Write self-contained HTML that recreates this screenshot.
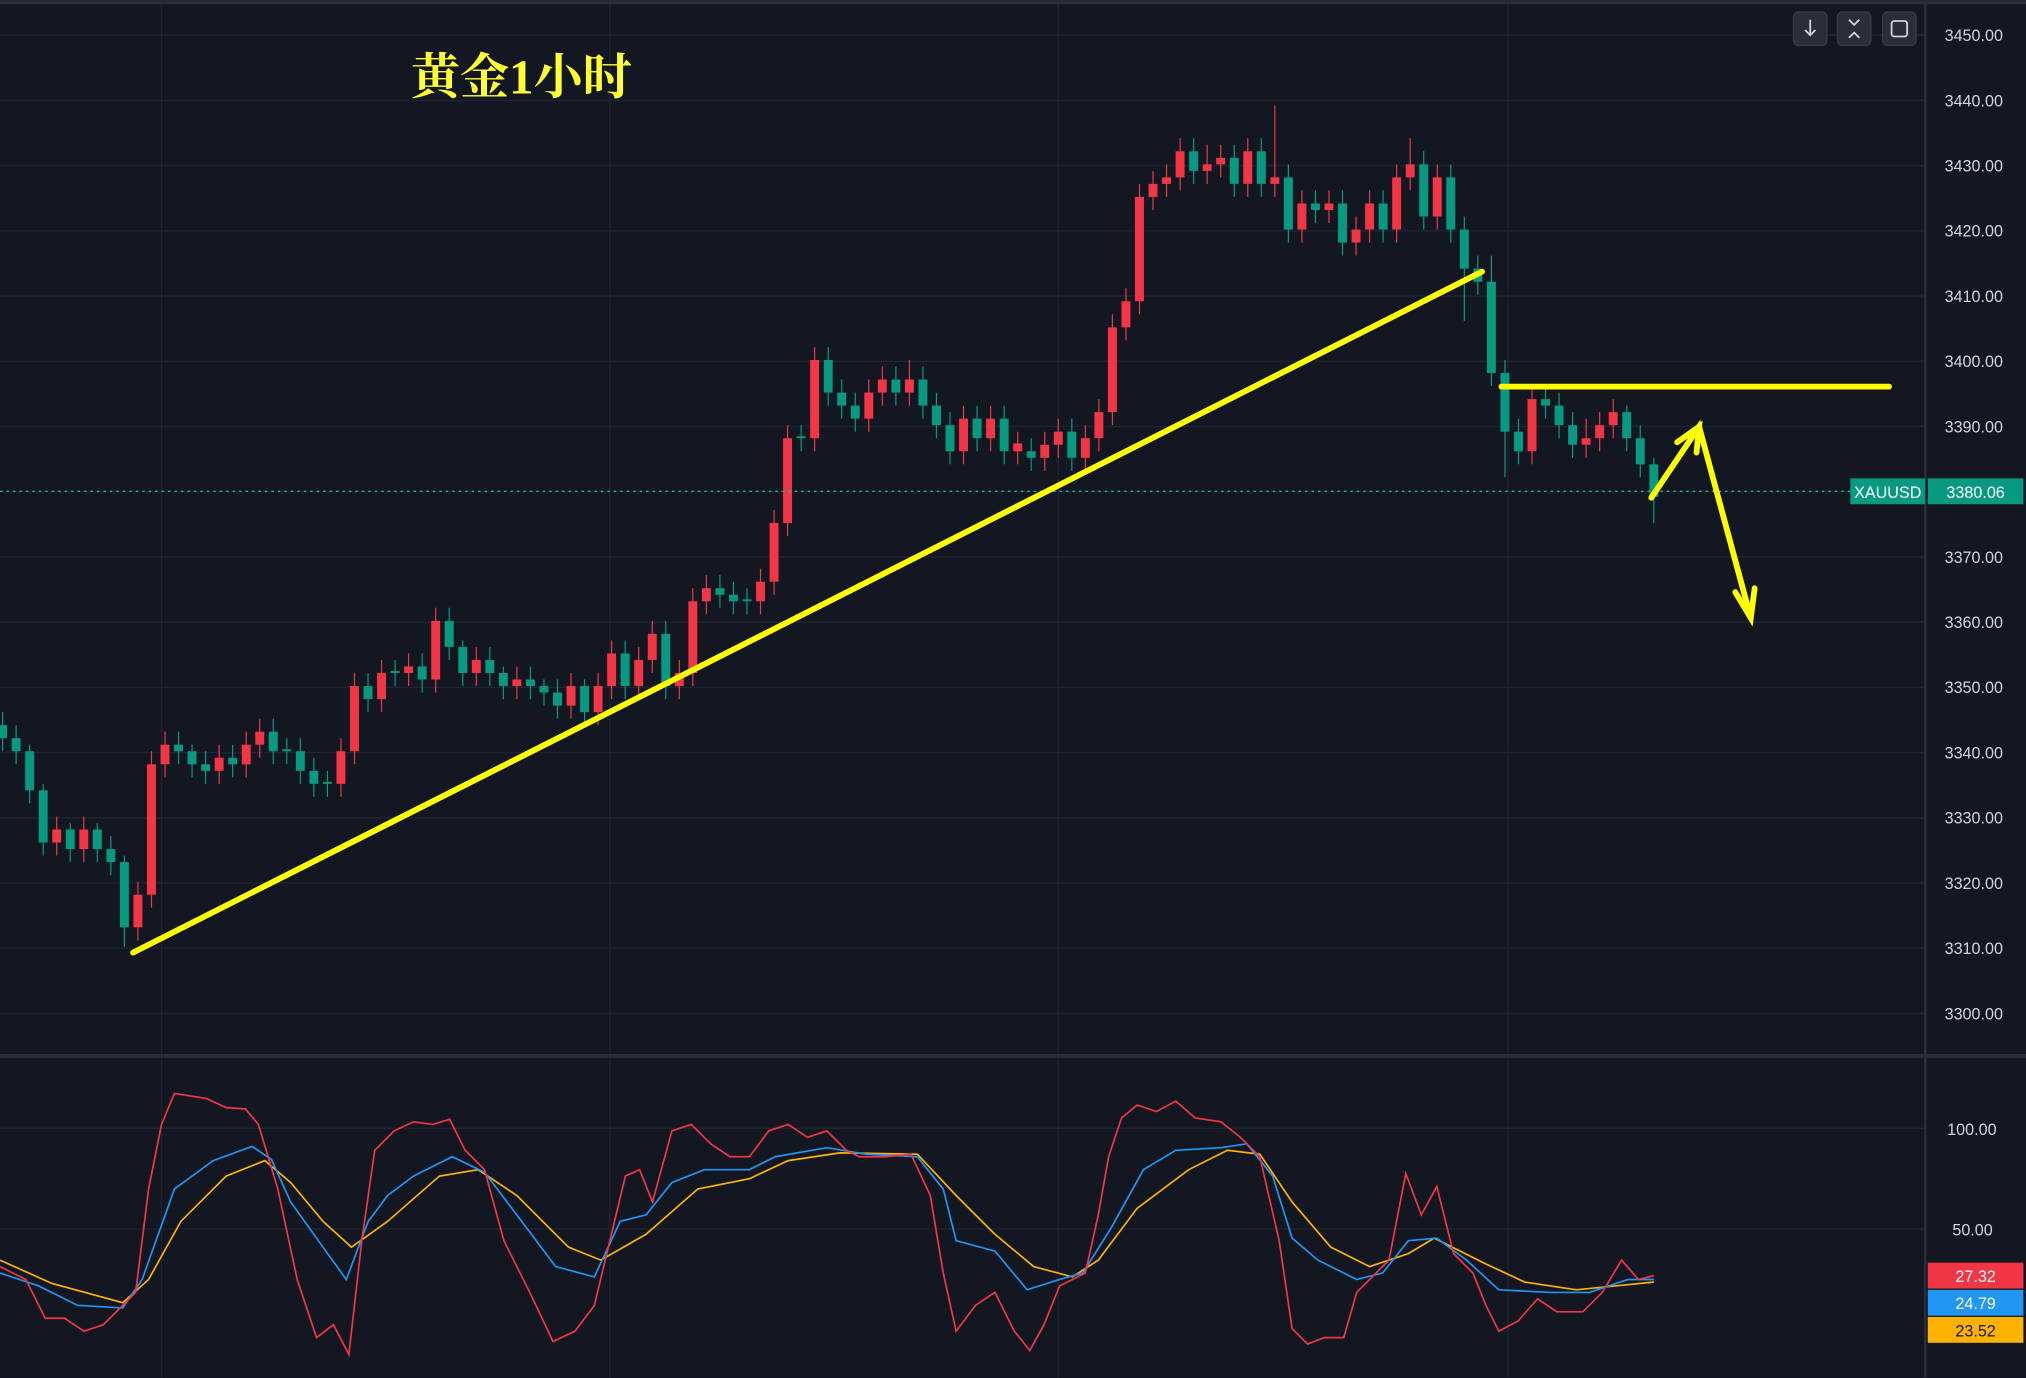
<!DOCTYPE html>
<html><head><meta charset="utf-8"><style>
html,body{margin:0;padding:0;background:#131722;width:2026px;height:1378px;overflow:hidden}
svg{display:block}
text{font-family:"Liberation Sans",sans-serif}
.w{vector-effect:non-scaling-stroke}
</style></head><body>
<svg width="2026" height="1378" viewBox="0 0 1568 1066" xmlns="http://www.w3.org/2000/svg">
<rect width="1568" height="1066" fill="#131722"/>
<path stroke="#1f2430" stroke-width="1" fill="none" d="M0 27H1490M0 77.5H1490M0 127.9H1490M0 178.4H1490M0 228.9H1490M0 279.4H1490M0 329.8H1490M0 380.3H1490M0 430.8H1490M0 481.3H1490M0 531.7H1490M0 582.2H1490M0 632.7H1490M0 683.1H1490M0 733.6H1490M0 784.1H1490M0 873H1490M0 951H1490M125 0V1066M472 0V1066M819 0V1066M1167 0V1066"/>
<g transform="matrix(10.475,0,0,-5.047,-8.475,17438.15)">
<!-- group A -->
<g fill="#089981">
<path class="w" stroke="#089981" stroke-width="1.2" fill="none" d="M1 3340V3346M2 3338V3344M3 3332V3341M4 3324V3335M6 3323V3329M8 3323V3329M9 3321V3327M10 3310V3324M14 3338V3343M15 3336V3341M16 3335V3340M18 3336V3341M21 3338V3345M22 3338V3342M23 3335V3342M24 3333V3339M25 3333V3337M28 3346V3352M30 3350V3354M32 3349V3355M34 3354V3362M35 3350V3357M37 3350V3356M38 3348V3353M40 3348V3353M41 3347V3351M42 3345V3351M44 3344V3351M47 3348V3357M50 3348V3360M54 3362V3367M55 3361V3366M56 3361V3365M60 3386V3390M62 3393V3402M63 3391V3397M64 3389V3395M67 3393V3399M69 3391V3399M70 3388V3395M71 3384V3392M73 3386V3393M75 3384V3393M121 3386V3393M122 3382V3390M123 3375V3385"/>
<rect x="0.67" y="3342" width=".66" height="2"/><rect x="1.67" y="3340" width=".66" height="2"/><rect x="2.67" y="3334" width=".66" height="6"/><rect x="3.67" y="3326" width=".66" height="8"/><rect x="5.67" y="3325" width=".66" height="3"/><rect x="7.67" y="3325" width=".66" height="3"/><rect x="8.67" y="3323" width=".66" height="2"/><rect x="9.67" y="3313" width=".66" height="10"/><rect x="13.67" y="3340" width=".66" height="1"/><rect x="14.67" y="3338" width=".66" height="2"/><rect x="15.67" y="3337" width=".66" height="1"/><rect x="17.67" y="3338" width=".66" height="1"/><rect x="20.67" y="3340" width=".66" height="3"/><rect x="21.67" y="3340" width=".66" height=".3"/><rect x="22.67" y="3337" width=".66" height="3"/><rect x="23.67" y="3335" width=".66" height="2"/><rect x="24.67" y="3335" width=".66" height=".3"/><rect x="27.67" y="3348" width=".66" height="2"/><rect x="29.67" y="3352" width=".66" height=".3"/><rect x="31.67" y="3351" width=".66" height="2"/><rect x="33.67" y="3356" width=".66" height="4"/><rect x="34.67" y="3352" width=".66" height="4"/><rect x="36.67" y="3352" width=".66" height="2"/><rect x="37.67" y="3350" width=".66" height="2"/><rect x="39.67" y="3350" width=".66" height="1"/><rect x="40.67" y="3349" width=".66" height="1"/><rect x="41.67" y="3347" width=".66" height="2"/><rect x="43.67" y="3346" width=".66" height="4"/><rect x="46.67" y="3350" width=".66" height="5"/><rect x="49.67" y="3350" width=".66" height="8"/><rect x="53.67" y="3364" width=".66" height="1"/><rect x="54.67" y="3363" width=".66" height="1"/><rect x="55.67" y="3363" width=".66" height=".3"/><rect x="59.67" y="3388" width=".66" height=".3"/><rect x="61.67" y="3395" width=".66" height="5"/><rect x="62.67" y="3393" width=".66" height="2"/><rect x="63.67" y="3391" width=".66" height="2"/><rect x="66.67" y="3395" width=".66" height="2"/><rect x="68.67" y="3393" width=".66" height="4"/><rect x="69.67" y="3390" width=".66" height="3"/><rect x="70.67" y="3386" width=".66" height="4"/><rect x="72.67" y="3388" width=".66" height="3"/><rect x="74.67" y="3386" width=".66" height="5"/><rect x="120.67" y="3388" width=".66" height="4"/><rect x="121.67" y="3384" width=".66" height="4"/><rect x="122.67" y="3379" width=".66" height="5"/>
</g>
<g fill="#f23645">
<path class="w" stroke="#f23645" stroke-width="1.2" fill="none" d="M5 3324V3330M7 3323V3330M11 3311V3320M12 3316V3340M13 3336V3343M17 3335V3341M19 3336V3343M20 3339V3345M26 3333V3342M27 3338V3352M29 3346V3354M31 3350V3355M33 3349V3362M36 3350V3356M39 3348V3353M43 3345V3352M45 3344V3352M46 3348V3357M48 3348V3356M49 3352V3360M51 3348V3354M52 3350V3365M53 3361V3367M57 3361V3368M58 3364V3377M59 3373V3390M61 3386V3402M65 3389V3397M66 3393V3399M68 3393V3400M72 3384V3393M74 3386V3393M76 3384V3389M120 3388V3394"/>
<rect x="4.67" y="3326" width=".66" height="2"/><rect x="6.67" y="3325" width=".66" height="3"/><rect x="10.67" y="3313" width=".66" height="5"/><rect x="11.67" y="3318" width=".66" height="20"/><rect x="12.67" y="3338" width=".66" height="3"/><rect x="16.67" y="3337" width=".66" height="2"/><rect x="18.67" y="3338" width=".66" height="3"/><rect x="19.67" y="3341" width=".66" height="2"/><rect x="25.67" y="3335" width=".66" height="5"/><rect x="26.67" y="3340" width=".66" height="10"/><rect x="28.67" y="3348" width=".66" height="4"/><rect x="30.67" y="3352" width=".66" height="1"/><rect x="32.67" y="3351" width=".66" height="9"/><rect x="35.67" y="3352" width=".66" height="2"/><rect x="38.67" y="3350" width=".66" height="1"/><rect x="42.67" y="3347" width=".66" height="3"/><rect x="44.67" y="3346" width=".66" height="4"/><rect x="45.67" y="3350" width=".66" height="5"/><rect x="47.67" y="3350" width=".66" height="4"/><rect x="48.67" y="3354" width=".66" height="4"/><rect x="50.67" y="3350" width=".66" height="2"/><rect x="51.67" y="3352" width=".66" height="11"/><rect x="52.67" y="3363" width=".66" height="2"/><rect x="56.67" y="3363" width=".66" height="3"/><rect x="57.67" y="3366" width=".66" height="9"/><rect x="58.67" y="3375" width=".66" height="13"/><rect x="60.67" y="3388" width=".66" height="12"/><rect x="64.67" y="3391" width=".66" height="4"/><rect x="65.67" y="3395" width=".66" height="2"/><rect x="67.67" y="3395" width=".66" height="2"/><rect x="71.67" y="3386" width=".66" height="5"/><rect x="73.67" y="3388" width=".66" height="3"/><rect x="75.67" y="3386" width=".66" height="1.2"/><rect x="119.67" y="3390" width=".66" height="2"/>
</g>
<!-- group B shifted one slot -->
<g transform="translate(1,0)">
<g fill="#089981">
<path class="w" stroke="#089981" stroke-width="1.2" fill="none" d="M76 3383V3388M79 3383V3391M88 3427V3434M91 3425V3433M93 3425V3434M95 3418V3430M97 3421V3426M99 3416V3426M102 3418V3426M105 3420V3432M107 3418V3430M108 3406V3422M109 3410V3416M110 3396V3416M111 3382V3400M112 3384V3391M114 3391V3396M115 3388V3395M116 3385V3392"/>
<rect x="75.67" y="3385" width=".66" height="1"/><rect x="78.67" y="3385" width=".66" height="4"/><rect x="87.67" y="3429" width=".66" height="3"/><rect x="90.67" y="3427" width=".66" height="4"/><rect x="92.67" y="3427" width=".66" height="5"/><rect x="94.67" y="3420" width=".66" height="8"/><rect x="96.67" y="3423" width=".66" height="1"/><rect x="98.67" y="3418" width=".66" height="6"/><rect x="101.67" y="3420" width=".66" height="4"/><rect x="104.67" y="3422" width=".66" height="8"/><rect x="106.67" y="3420" width=".66" height="8"/><rect x="107.67" y="3414" width=".66" height="6"/><rect x="108.67" y="3412" width=".66" height="2"/><rect x="109.67" y="3398" width=".66" height="14"/><rect x="110.67" y="3389" width=".66" height="9"/><rect x="111.67" y="3386" width=".66" height="3"/><rect x="113.67" y="3393" width=".66" height="1"/><rect x="114.67" y="3390" width=".66" height="3"/><rect x="115.67" y="3387" width=".66" height="3"/>
</g>
<g fill="#f23645">
<path class="w" stroke="#f23645" stroke-width="1.2" fill="none" d="M77 3383V3389M78 3385V3391M80 3383V3390M81 3386V3394M82 3390V3407M83 3403V3411M84 3407V3427M85 3423V3429M86 3425V3430M87 3426V3434M89 3427V3433M90 3428V3433M92 3425V3434M94 3425V3439M96 3418V3426M98 3421V3426M100 3416V3422M101 3418V3426M103 3418V3430M104 3426V3434M106 3420V3430M113 3384V3396M117 3385V3391M118 3386V3392"/>
<rect x="76.67" y="3385" width=".66" height="2"/><rect x="77.67" y="3387" width=".66" height="2"/><rect x="79.67" y="3385" width=".66" height="3"/><rect x="80.67" y="3388" width=".66" height="4"/><rect x="81.67" y="3392" width=".66" height="13"/><rect x="82.67" y="3405" width=".66" height="4"/><rect x="83.67" y="3409" width=".66" height="16"/><rect x="84.67" y="3425" width=".66" height="2"/><rect x="85.67" y="3427" width=".66" height="1"/><rect x="86.67" y="3428" width=".66" height="4"/><rect x="88.67" y="3429" width=".66" height="1"/><rect x="89.67" y="3430" width=".66" height="1"/><rect x="91.67" y="3427" width=".66" height="5"/><rect x="93.67" y="3427" width=".66" height="1"/><rect x="95.67" y="3420" width=".66" height="4"/><rect x="97.67" y="3423" width=".66" height="1"/><rect x="99.67" y="3418" width=".66" height="2"/><rect x="100.67" y="3420" width=".66" height="4"/><rect x="102.67" y="3420" width=".66" height="8"/><rect x="103.67" y="3428" width=".66" height="2"/><rect x="105.67" y="3422" width=".66" height="6"/><rect x="112.67" y="3386" width=".66" height="8"/><rect x="116.67" y="3387" width=".66" height="1"/><rect x="117.67" y="3388" width=".66" height="2"/>
</g>
</g>
</g>
<!-- indicator -->
<polyline fill="none" stroke="#ffb300" stroke-width="1.3" points="0,975 40,993 95,1008 115,990 140,945 175,910 205,898 225,915 250,945 272,965 300,945 340,910 370,905 400,925 440,965 465,975 500,955 540,920 580,912 610,898 650,892 710,893 740,925 770,955 800,980 830,988 850,975 880,935 920,905 950,890 975,893 1000,930 1030,965 1060,980 1090,970 1110,958 1150,978 1180,992 1220,998 1250,995 1280,992"/>
<polyline fill="none" stroke="#2196f3" stroke-width="1.3" points="0,985 30,995 60,1010 95,1012 110,990 135,920 165,898 195,887 210,897 225,930 250,965 268,990 285,945 300,925 320,910 350,895 375,907 400,940 430,980 460,988 480,945 500,940 520,915 545,905 580,905 600,895 640,888 670,893 710,895 730,920 740,960 770,968 795,998 820,990 838,985 860,950 885,905 910,890 945,888 965,885 985,910 1000,958 1020,975 1050,990 1070,985 1090,960 1112,958 1135,975 1160,998 1200,1000 1230,1000 1260,990 1280,990"/>
<polyline fill="none" stroke="#f23645" stroke-width="1.3" points="0,980 20,990 35,1020 50,1020 65,1030 80,1025 95,1010 105,1000 115,920 125,870 135,846 160,850 175,857 190,858 200,870 215,920 230,990 245,1035 258,1025 270,1048 280,960 290,890 305,875 320,868 335,870 348,866 360,890 375,905 390,960 410,1000 428,1038 445,1030 460,1010 472,960 484,910 495,905 505,930 520,875 535,870 550,885 565,895 580,895 595,875 610,870 625,880 640,875 655,890 665,895 685,895 705,893 720,925 730,985 740,1030 755,1010 770,1000 785,1030 797,1045 808,1025 820,995 840,985 850,940 858,895 868,865 880,855 895,860 910,852 925,865 945,868 960,880 975,895 990,960 1000,1028 1012,1040 1025,1035 1040,1035 1050,1000 1060,990 1075,975 1088,908 1100,940 1112,918 1125,970 1140,985 1150,1010 1160,1030 1175,1022 1190,1005 1205,1015 1225,1015 1240,1000 1255,975 1268,990 1280,987"/>
<line x1="0" y1="380" x2="1490" y2="380" stroke="#22ab94" stroke-width="1" stroke-dasharray="2,3"/>
<line x1="1490" y1="0" x2="1490" y2="1066" stroke="#2a2e39" stroke-width="2"/>
<line x1="0" y1="817" x2="1568" y2="817" stroke="#2a2e39" stroke-width="3"/>
<rect x="0" y="0" width="1568" height="3" fill="#2a2e39"/>
<g font-size="12.5" fill="#d1d4dc">
<text x="1505" y="31.5">3450.00</text><text x="1505" y="82">3440.00</text><text x="1505" y="132.4">3430.00</text><text x="1505" y="182.9">3420.00</text><text x="1505" y="233.4">3410.00</text><text x="1505" y="283.9">3400.00</text><text x="1505" y="334.3">3390.00</text><text x="1505" y="435.3">3370.00</text><text x="1505" y="485.8">3360.00</text><text x="1505" y="536.2">3350.00</text><text x="1505" y="586.7">3340.00</text><text x="1505" y="637.2">3330.00</text><text x="1505" y="687.6">3320.00</text><text x="1505" y="738.1">3310.00</text><text x="1505" y="788.6">3300.00</text>
<text x="1507" y="878">100.00</text><text x="1511" y="956">50.00</text>
</g>
<g fill="#2a2e39" stroke="#363a45">
<rect x="1388" y="9" width="26" height="26" rx="4"/>
<rect x="1422" y="9" width="26" height="26" rx="4"/>
<rect x="1457" y="9" width="26" height="26" rx="4"/>
</g>
<g stroke="#d1d4dc" stroke-width="1.4" fill="none">
<path d="M1401 15v12M1397 23l4 4 4-4"/>
<path d="M1431 15l4 4 4-4M1431 29l4-4 4 4"/>
<rect x="1464" y="16" width="12" height="12" rx="2"/>
</g>
<rect x="1432" y="370" width="58" height="20" fill="#089981"/>
<text x="1461" y="385" font-size="12.5" fill="#fff" text-anchor="middle">XAUUSD</text>
<rect x="1492" y="370" width="74" height="20" fill="#089981"/>
<text x="1529" y="385" font-size="12.5" fill="#fff" text-anchor="middle">3380.06</text>
<rect x="1492" y="977" width="74" height="20" fill="#f23645"/>
<text x="1529" y="992" font-size="12.5" fill="#fff" text-anchor="middle">27.32</text>
<rect x="1492" y="998" width="74" height="20" fill="#2196f3"/>
<text x="1529" y="1013" font-size="12.5" fill="#fff" text-anchor="middle">24.79</text>
<rect x="1492" y="1019" width="74" height="20" fill="#ffb300"/>
<text x="1529" y="1034" font-size="12.5" fill="#131722" text-anchor="middle">23.52</text>
<g stroke="#ffff00" stroke-width="4.5" stroke-linecap="round" fill="none">
<line x1="103" y1="737" x2="1147" y2="210"/>
<line x1="1162" y1="299" x2="1462" y2="299"/>
<polyline points="1278,385 1315,330 1355,478"/>
<polyline points="1298,342 1315,330 1313,350"/>
<polyline points="1343,458 1355,478 1358,455"/>
</g>
<text x="318" y="72" font-size="38" font-weight="bold" fill="#ffff33" style="font-family:'Liberation Serif','Noto Serif CJK SC',serif">黄金1小时</text>
</svg>
</body></html>
